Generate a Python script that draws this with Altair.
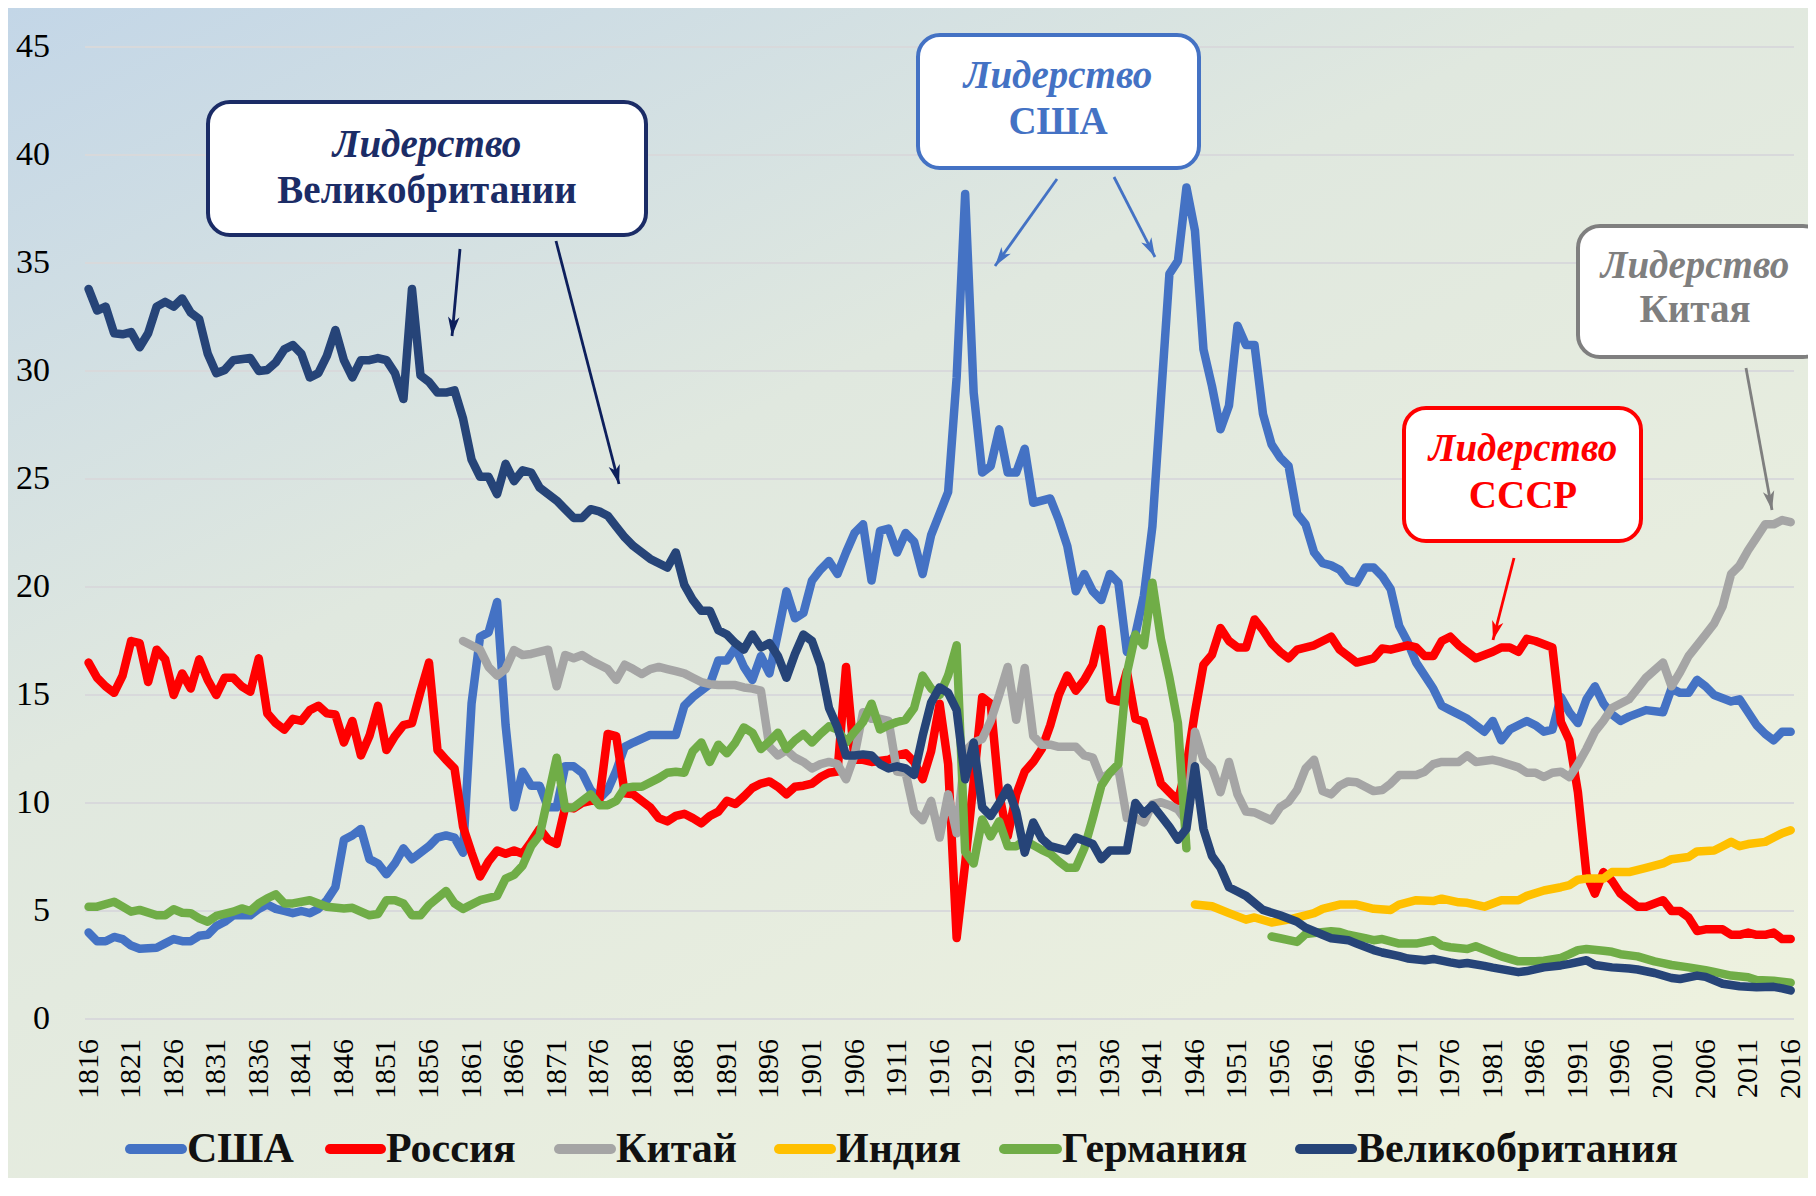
import math
import altair as alt
import pandas as pd

# ---------------- data (share of world power, %) ----------------
usa_years = [1816, 1817, 1818, 1819, 1820, 1821, 1822, 1824, 1825, 1826, 1827, 1828, 1829, 1830,
             1831, 1832, 1833, 1835, 1836, 1837, 1838, 1839, 1840, 1841, 1842, 1843, 1844, 1845,
             1846, 1847, 1848, 1849, 1850, 1851, 1852, 1853, 1854, 1855, 1856, 1857, 1858, 1859,
             1860, 1861, 1862, 1863, 1864, 1865, 1866, 1867, 1868, 1869, 1870, 1871, 1872, 1873,
             1874, 1875, 1876, 1877, 1878, 1879, 1880, 1882, 1885, 1886, 1887, 1888, 1889, 1890,
             1891, 1892, 1893, 1894, 1895, 1896, 1897, 1898, 1899, 1900, 1901, 1902, 1903, 1904,
             1905, 1906, 1907, 1908, 1909, 1910, 1911, 1912, 1913, 1914, 1915, 1916, 1917, 1918,
             1919, 1920, 1921, 1922, 1923, 1924, 1925, 1926, 1927, 1928, 1929, 1930, 1931, 1932,
             1933, 1934, 1935, 1936, 1937, 1938, 1939, 1940, 1941, 1942, 1943, 1944, 1945, 1946,
             1947, 1948, 1949, 1950, 1951, 1952, 1953, 1954, 1955, 1956, 1957, 1958, 1959, 1960,
             1961, 1962, 1963, 1964, 1965, 1966, 1967, 1968, 1969, 1970, 1971, 1972, 1974, 1975,
             1976, 1978, 1980, 1981, 1982, 1983, 1985, 1986, 1987, 1988, 1989, 1990, 1991, 1992,
             1993, 1994, 1995, 1996, 1997, 1999, 2001, 2002, 2003, 2004, 2005, 2006, 2007, 2009,
             2010, 2011, 2012, 2013, 2014, 2015, 2016]
usa_values = [4.0, 3.6, 3.6, 3.8, 3.7, 3.4, 3.25, 3.3, 3.5, 3.7, 3.6, 3.6, 3.85, 3.9,
              4.3, 4.5, 4.8, 4.8, 5.1, 5.3, 5.1, 5.0, 4.9, 5.0, 4.9, 5.1, 5.5, 6.1,
              8.3, 8.5, 8.8, 7.4, 7.2, 6.7, 7.2, 7.9, 7.4, 7.7, 8.0, 8.4, 8.5, 8.4,
              7.7, 14.6, 17.7, 17.9, 19.3, 13.6, 9.8, 11.45, 10.8, 10.8, 9.8, 9.8, 11.7, 11.7,
              11.4, 10.6, 10.2, 10.6, 11.5, 12.6, 12.8, 13.15, 13.15, 14.5, 14.9, 15.2, 15.5, 16.6,
              16.6, 17.2, 16.3, 15.7, 16.8, 16.0, 17.85, 19.8, 18.55, 18.8, 20.3, 20.8, 21.2, 20.6,
              21.6, 22.5, 22.9, 20.3, 22.6, 22.7, 21.6, 22.5, 22.1, 20.6, 22.4, 23.4, 24.4, 29.7,
              38.2, 29.0, 25.3, 25.6, 27.3, 25.3, 25.3, 26.4, 23.9, 24.0, 24.1, 23.1, 21.9, 19.8,
              20.6, 19.8, 19.4, 20.6, 20.2, 17.0, 17.8, 19.6, 22.8, 28.7, 34.5, 35.1, 38.5, 36.5,
              31.0, 29.3, 27.3, 28.4, 32.1, 31.2, 31.2, 28.0, 26.6, 26.0, 25.6, 23.4, 22.9, 21.6,
              21.1, 21.0, 20.8, 20.3, 20.2, 20.9, 20.9, 20.5, 19.9, 18.2, 17.45, 16.5, 15.3, 14.5,
              14.3, 13.9, 13.3, 13.8, 12.9, 13.4, 13.8, 13.6, 13.3, 13.4, 14.9, 14.2, 13.7, 14.8,
              15.4, 14.6, 14.1, 13.8, 14.0, 14.3, 14.2, 15.3, 15.1, 15.1, 15.7, 15.4, 15.0, 14.7,
              14.8, 14.2, 13.6, 13.2, 12.9, 13.3, 13.3]

rus_years = [1816, 1817, 1818, 1819, 1820, 1821, 1822, 1823, 1824, 1825, 1826, 1827, 1828, 1829,
             1830, 1831, 1832, 1833, 1834, 1835, 1836, 1837, 1838, 1839, 1840, 1841, 1842, 1843,
             1844, 1845, 1846, 1847, 1848, 1849, 1850, 1851, 1852, 1853, 1854, 1855, 1856, 1857,
             1858, 1859, 1860, 1861, 1862, 1863, 1864, 1865, 1866, 1867, 1868, 1869, 1870, 1871,
             1872, 1873, 1874, 1875, 1876, 1877, 1878, 1879, 1880, 1881, 1882, 1883, 1884, 1885,
             1886, 1887, 1888, 1889, 1890, 1891, 1892, 1893, 1894, 1895, 1896, 1897, 1898, 1899,
             1900, 1901, 1902, 1903, 1904, 1905, 1906, 1907, 1908, 1910, 1911, 1912, 1913, 1914,
             1915, 1916, 1917, 1918, 1919, 1920, 1921, 1922, 1923, 1924, 1925, 1926, 1927, 1928,
             1929, 1930, 1931, 1932, 1933, 1934, 1935, 1936, 1937, 1938, 1939, 1940, 1941, 1942,
             1943, 1944, 1945, 1946, 1947, 1948, 1949, 1950, 1951, 1952, 1953, 1954, 1955, 1956,
             1957, 1958, 1960, 1962, 1963, 1965, 1967, 1968, 1969, 1971, 1972, 1973, 1974, 1975,
             1976, 1977, 1979, 1981, 1982, 1983, 1984, 1985, 1986, 1988, 1989, 1990, 1991, 1992,
             1993, 1994, 1995, 1996, 1998, 1999, 2001, 2002, 2003, 2004, 2005, 2006, 2008, 2009,
             2010, 2011, 2012, 2013, 2014, 2015, 2016]
rus_values = [16.5, 15.8, 15.4, 15.1, 15.9, 17.5, 17.4, 15.6, 17.1, 16.65, 15.0, 16.0, 15.3, 16.65,
              15.7, 15.0, 15.8, 15.8, 15.4, 15.15, 16.7, 14.15, 13.7, 13.4, 13.9, 13.8, 14.3, 14.5,
              14.15, 14.1, 12.8, 13.8, 12.2, 13.1, 14.5, 12.45, 13.1, 13.6, 13.7, 15.15, 16.5, 12.45,
              12.0, 11.6, 8.9, 7.7, 6.6, 7.3, 7.8, 7.65, 7.8, 7.65, 8.2, 8.8, 8.3, 8.1,
              9.8, 9.75, 10.0, 10.1, 10.1, 13.2, 13.1, 10.45, 10.4, 10.1, 9.8, 9.3, 9.15, 9.4,
              9.5, 9.3, 9.06, 9.4, 9.6, 10.1, 9.95, 10.3, 10.7, 10.9, 11.0, 10.75, 10.4, 10.75,
              10.8, 10.9, 11.2, 11.4, 11.46, 16.3, 12.0, 12.0, 11.9, 12.0, 12.2, 12.3, 11.9, 11.1,
              12.4, 14.6, 11.8, 3.75, 7.2, 11.0, 14.9, 14.6, 10.4, 8.45, 10.4, 11.46, 11.9, 12.5,
              13.6, 15.0, 15.9, 15.2, 15.7, 16.4, 18.05, 14.8, 14.7, 16.1, 13.9, 13.76, 12.3, 10.9,
              10.5, 10.1, 11.7, 14.2, 16.4, 16.86, 18.1, 17.5, 17.2, 17.2, 18.5, 18.0, 17.4, 17.0,
              16.7, 17.1, 17.3, 17.7, 17.1, 16.5, 16.7, 17.15, 17.1, 17.3, 17.2, 16.8, 16.8, 17.5,
              17.7, 17.3, 16.7, 17.0, 17.2, 17.2, 17.0, 17.6, 17.5, 17.2, 13.75, 12.9, 10.5, 6.7,
              5.8, 6.8, 6.4, 5.8, 5.2, 5.2, 5.5, 5.0, 5.0, 4.7, 4.07, 4.15, 4.15, 3.9,
              3.9, 4.0, 3.9, 3.9, 4.0, 3.7, 3.7]

chn_years = [1860, 1862, 1863, 1864, 1865, 1866, 1867, 1868, 1870, 1871, 1872, 1873, 1874, 1875,
             1876, 1877, 1878, 1879, 1880, 1881, 1882, 1883, 1884, 1885, 1886, 1887, 1888, 1889,
             1890, 1892, 1893, 1894, 1895, 1896, 1897, 1898, 1899, 1900, 1901, 1902, 1903, 1904,
             1905, 1906, 1907, 1908, 1909, 1910, 1911, 1912, 1913, 1914, 1915, 1916, 1917, 1918,
             1919, 1920, 1921, 1922, 1923, 1924, 1925, 1926, 1927, 1928, 1929, 1930, 1932, 1933,
             1934, 1935, 1936, 1937, 1938, 1939, 1940, 1941, 1942, 1943, 1944, 1945, 1946, 1947,
             1948, 1949, 1950, 1951, 1952, 1953, 1955, 1956, 1957, 1958, 1959, 1960, 1961, 1962,
             1963, 1964, 1965, 1967, 1968, 1969, 1970, 1972, 1973, 1974, 1975, 1977, 1978, 1979,
             1981, 1982, 1984, 1985, 1986, 1987, 1988, 1989, 1990, 1991, 1992, 1993, 1994, 1995,
             1997, 1998, 1999, 2001, 2002, 2003, 2004, 2005, 2006, 2007, 2008, 2009, 2010, 2011,
             2012, 2013, 2014, 2015, 2016]
chn_values = [17.5, 17.1, 16.3, 15.9, 16.2, 17.08, 16.85, 16.9, 17.1, 15.4, 16.85, 16.7, 16.85, 16.6,
              16.4, 16.2, 15.7, 16.4, 16.2, 15.97, 16.2, 16.3, 16.2, 16.1, 16.0, 15.8, 15.6, 15.5,
              15.46, 15.46, 15.35, 15.3, 15.2, 12.6, 12.2, 12.45, 12.1, 11.9, 11.6, 11.8, 11.9, 11.8,
              11.1, 12.2, 14.2, 13.9, 13.9, 13.8, 11.46, 11.4, 9.6, 9.2, 10.1, 8.4, 10.4, 8.6,
              12.4, 12.8, 12.96, 13.8, 15.0, 16.3, 13.85, 16.25, 13.1, 12.7, 12.7, 12.6, 12.6, 12.2,
              12.1, 11.1, 11.4, 11.6, 9.3, 9.3, 9.1, 9.95, 10.04, 9.9, 9.7, 9.15, 13.3, 12.0,
              11.6, 10.5, 11.9, 10.4, 9.6, 9.56, 9.2, 9.8, 10.06, 10.6, 11.6, 12.0, 10.55, 10.4,
              10.8, 11.0, 10.96, 10.55, 10.6, 10.9, 11.3, 11.3, 11.45, 11.8, 11.9, 11.9, 12.2, 11.9,
              12.0, 11.9, 11.65, 11.4, 11.4, 11.2, 11.4, 11.45, 11.2, 11.8, 12.5, 13.3, 13.8, 14.4,
              14.8, 15.3, 15.8, 16.5, 15.4, 16.05, 16.8, 17.3, 17.8, 18.3, 19.1, 20.6, 21.0, 21.7,
              22.3, 22.9, 22.9, 23.1, 23.0]

ind_years = [1946, 1948, 1950, 1952, 1953, 1955, 1957, 1959, 1960, 1961, 1963, 1965, 1967, 1969,
             1970, 1972, 1974, 1975, 1977, 1978, 1980, 1982, 1984, 1985, 1987, 1989, 1990, 1991,
             1992, 1994, 1995, 1997, 1999, 2001, 2002, 2004, 2005, 2007, 2008, 2009, 2010, 2011,
             2013, 2014, 2015, 2016]
ind_values = [5.3, 5.22, 4.9, 4.6, 4.7, 4.47, 4.6, 4.8, 4.9, 5.1, 5.3, 5.3, 5.1, 5.05,
              5.3, 5.5, 5.46, 5.57, 5.4, 5.38, 5.2, 5.5, 5.5, 5.7, 5.95, 6.1, 6.2, 6.45,
              6.5, 6.5, 6.8, 6.8, 7.0, 7.2, 7.4, 7.5, 7.76, 7.8, 8.0, 8.2, 8.0, 8.1,
              8.2, 8.4, 8.6, 8.74]

# Germany: two separate stretches (no data 1946-1954)
ger_years_a = [1816, 1817, 1819, 1820, 1821, 1822, 1824, 1825, 1826, 1827, 1828, 1829, 1830, 1831,
               1833, 1834, 1835, 1836, 1837, 1838, 1839, 1840, 1842, 1843, 1844, 1846, 1847, 1848,
               1849, 1850, 1851, 1852, 1853, 1854, 1855, 1856, 1858, 1859, 1860, 1862, 1864, 1865,
               1866, 1867, 1868, 1869, 1870, 1871, 1872, 1873, 1874, 1875, 1876, 1877, 1878, 1879,
               1880, 1881, 1883, 1884, 1885, 1886, 1887, 1888, 1889, 1890, 1891, 1892, 1893, 1894,
               1895, 1896, 1897, 1898, 1899, 1900, 1901, 1902, 1903, 1904, 1905, 1906, 1907, 1908,
               1909, 1910, 1911, 1912, 1913, 1914, 1915, 1916, 1917, 1918, 1919, 1920, 1921, 1922,
               1923, 1924, 1925, 1926, 1928, 1929, 1930, 1931, 1932, 1933, 1934, 1935, 1936, 1937,
               1938, 1939, 1940, 1941, 1942, 1943, 1944, 1945]
ger_values_a = [5.2, 5.2, 5.43, 5.2, 4.97, 5.05, 4.8, 4.8, 5.08, 4.92, 4.9, 4.66, 4.5, 4.77,
                4.97, 5.12, 5.0, 5.35, 5.59, 5.77, 5.35, 5.35, 5.5, 5.35, 5.2, 5.12, 5.15, 4.97,
                4.8, 4.86, 5.5, 5.5, 5.35, 4.8, 4.8, 5.28, 5.93, 5.35, 5.1, 5.5, 5.7, 6.5,
                6.67, 7.1, 8.0, 8.5, 10.3, 12.1, 9.75, 9.8, 10.1, 10.4, 9.9, 9.9, 10.1, 10.7,
                10.75, 10.75, 11.15, 11.4, 11.45, 11.4, 12.4, 12.8, 11.9, 12.7, 12.3, 12.8, 13.5, 13.25,
                12.5, 12.85, 13.25, 12.5, 12.9, 13.2, 12.8, 13.2, 13.55, 13.4, 12.8, 13.3, 13.75, 14.6,
                13.4, 13.6, 13.75, 13.85, 14.4, 15.9, 15.3, 15.0, 15.9, 17.3, 7.74, 7.2, 9.24, 8.45,
                9.15, 8.0, 8.0, 8.27, 7.83, 7.65, 7.3, 7.0, 7.0, 7.9, 9.3, 10.8, 11.4, 11.8,
                16.0, 17.8, 17.3, 20.2, 17.6, 15.8, 13.7, 7.9]
ger_years_b = [1955, 1956, 1958, 1959, 1960, 1962, 1963, 1964, 1966, 1967, 1968, 1970, 1972, 1974,
               1975, 1976, 1978, 1979, 1980, 1982, 1984, 1986, 1987, 1989, 1990, 1991, 1992, 1994,
               1995, 1996, 1998, 2000, 2001, 2002, 2004, 2006, 2007, 2009, 2011, 2012, 2014, 2016]
ger_values_b = [3.82, 3.74, 3.57, 3.93, 3.98, 4.06, 4.03, 3.9, 3.74, 3.65, 3.7, 3.49, 3.49, 3.65,
                3.4, 3.32, 3.24, 3.37, 3.21, 2.9, 2.67, 2.67, 2.7, 2.83, 3.0, 3.19, 3.24, 3.16,
                3.11, 3.0, 2.9, 2.67, 2.59, 2.5, 2.39, 2.26, 2.18, 2.01, 1.93, 1.8, 1.77, 1.68]

gbr_years = [1816, 1817, 1818, 1819, 1820, 1821, 1822, 1823, 1824, 1825, 1826, 1827, 1828, 1829,
             1830, 1831, 1832, 1833, 1835, 1836, 1837, 1838, 1839, 1840, 1841, 1842, 1843, 1844,
             1845, 1846, 1847, 1848, 1849, 1850, 1851, 1852, 1853, 1854, 1855, 1856, 1857, 1858,
             1859, 1860, 1861, 1862, 1863, 1864, 1865, 1866, 1867, 1868, 1869, 1870, 1871, 1872,
             1873, 1874, 1875, 1876, 1877, 1878, 1879, 1880, 1881, 1882, 1883, 1884, 1885, 1886,
             1887, 1888, 1889, 1890, 1891, 1892, 1893, 1894, 1895, 1896, 1897, 1898, 1899, 1900,
             1901, 1902, 1903, 1904, 1905, 1906, 1907, 1908, 1909, 1910, 1911, 1912, 1913, 1914,
             1915, 1916, 1917, 1918, 1919, 1920, 1921, 1922, 1923, 1924, 1925, 1926, 1927, 1928,
             1929, 1931, 1932, 1934, 1935, 1936, 1938, 1939, 1940, 1941, 1942, 1943, 1944, 1945,
             1946, 1947, 1948, 1949, 1950, 1951, 1952, 1954, 1956, 1958, 1959, 1961, 1962, 1964,
             1965, 1967, 1968, 1970, 1971, 1973, 1974, 1976, 1977, 1978, 1980, 1981, 1984, 1985,
             1987, 1989, 1990, 1992, 1993, 1995, 1997, 1998, 2000, 2002, 2003, 2005, 2006, 2008,
             2010, 2012, 2014, 2015, 2016]
gbr_values = [33.8, 32.8, 32.98, 31.75, 31.7, 31.8, 31.1, 31.75, 32.98, 33.2, 32.98, 33.36, 32.7, 32.4,
              30.8, 29.9, 30.05, 30.5, 30.6, 30.0, 30.05, 30.4, 31.0, 31.2, 30.8, 29.7, 29.9, 30.7,
              31.9, 30.5, 29.7, 30.5, 30.5, 30.6, 30.5, 29.9, 28.7, 33.8, 29.8, 29.5, 29.0, 29.0,
              29.1, 27.8, 25.9, 25.1, 25.1, 24.3, 25.7, 24.9, 25.4, 25.3, 24.6, 24.3, 24.0, 23.6,
              23.2, 23.2, 23.6, 23.5, 23.3, 22.8, 22.3, 21.9, 21.6, 21.3, 21.1, 20.9, 21.6, 20.1,
              19.4, 18.9, 18.9, 18.0, 17.8, 17.4, 17.1, 17.8, 17.2, 17.4, 16.8, 15.8, 16.9, 17.8,
              17.5, 16.4, 14.4, 13.5, 12.2, 12.2, 12.25, 12.2, 11.8, 11.6, 11.7, 11.6, 11.3, 13.1,
              14.65, 15.35, 15.1, 14.3, 11.1, 12.8, 9.8, 9.4, 10.0, 10.7, 9.6, 7.7, 9.1, 8.35,
              8.0, 7.8, 8.4, 8.1, 7.4, 7.8, 7.8, 10.0, 9.5, 9.9, 9.4, 8.9, 8.3, 8.8,
              11.7, 8.8, 7.55, 7.0, 6.1, 5.9, 5.7, 5.05, 4.8, 4.5, 4.23, 3.9, 3.74, 3.65,
              3.49, 3.19, 3.08, 2.91, 2.8, 2.72, 2.78, 2.62, 2.55, 2.59, 2.46, 2.38, 2.17, 2.22,
              2.39, 2.48, 2.55, 2.72, 2.5, 2.39, 2.34, 2.29, 2.13, 1.9, 1.85, 2.01, 1.95, 1.63,
              1.52, 1.47, 1.49, 1.42, 1.32]

COUNTRIES = ["США", "Россия", "Китай", "Индия", "Германия", "Великобритания"]
COLORS = ["#4472C4", "#FF0000", "#A5A5A5", "#FFC000", "#70AD47", "#264478"]
TICK_YEARS = list(range(1816, 2017, 5))
GRID_VALUES = list(range(0, 46, 5))

# ---------------- layout ----------------
W, H = 1709, 972
PAD = {"left": 77, "top": 39, "right": 14, "bottom": 159}
FONT = "Liberation Serif"
LINE_W = 8.5

x_scale = alt.Scale(domain=[1815.58, 2016.39], nice=False, zero=False)
y_scale = alt.Scale(domain=[0, 45], nice=False)

one = pd.DataFrame({"a": [0]})

background = alt.Chart(one).mark_rect(
    fill=alt.LinearGradient(
        gradient="linear",
        stops=[alt.GradientStop(offset=0, color="#c3d6e7"),
               alt.GradientStop(offset=0.42, color="#e0e8df"),
               alt.GradientStop(offset=1, color="#edf1df")],
        x1=0, y1=0, x2=0.75, y2=1),
).encode(x=alt.value(-PAD["left"]), x2=alt.value(W + PAD["right"]),
         y=alt.value(-PAD["top"]), y2=alt.value(H + PAD["bottom"]))

grid = alt.Chart(pd.DataFrame({"g": GRID_VALUES})).mark_rule(
    color="#d8d9db", strokeWidth=1.8
).encode(y=alt.Y("g:Q", scale=y_scale, axis=None), x=alt.value(0), x2=alt.value(W))

# tick labels drawn as text
y_labels = alt.Chart(pd.DataFrame({"g": GRID_VALUES})).mark_text(
    font=FONT, fontSize=34, color="#000000", align="right", baseline="middle"
).encode(y=alt.Y("g:Q", scale=y_scale, axis=None), x=alt.value(-35), text="g:Q")

x_labels = alt.Chart(pd.DataFrame({"yr": TICK_YEARS})).mark_text(
    font=FONT, fontSize=30, color="#000000", align="right", baseline="middle", angle=270
).encode(x=alt.X("yr:Q", scale=x_scale, axis=None), y=alt.value(H + 20), text="yr:Q")


def line_layer(years, values, color):
    df = pd.DataFrame({"year": years, "value": values})
    return alt.Chart(df).mark_line(
        color=color, strokeWidth=LINE_W, strokeCap="round", strokeJoin="round"
    ).encode(
        x=alt.X("year:Q", scale=x_scale, axis=None),
        y=alt.Y("value:Q", scale=y_scale, axis=None),
    )


lines = [
    line_layer(usa_years, usa_values, COLORS[0]),
    line_layer(rus_years, rus_values, COLORS[1]),
    line_layer(chn_years, chn_values, COLORS[2]),
    line_layer(ind_years, ind_values, COLORS[3]),
    line_layer(ger_years_a, ger_values_a, COLORS[4]),
    line_layer(ger_years_b, ger_values_b, COLORS[4]),
    line_layer(gbr_years, gbr_values, COLORS[5]),
]

# ---------------- annotations (pixel positions inside the plot area) ----------------
NAVY_T = "#1b2c66"
ANN_COLORS = [NAVY_T, "#4472C4", "#FF0000", "#7F7F7F"]
boxes = pd.DataFrame({
    "x": [123, 833, 1319, 1493],
    "x2": [561, 1114, 1556, 1740],
    "y": [55, -12, 361, 179],
    "y2": [188, 121, 494, 310],
    "c": ANN_COLORS,
})
box_layer = alt.Chart(boxes).mark_rect(
    fill="white", strokeWidth=4, cornerRadius=22
).encode(
    x=alt.X("x:Q", scale=None, axis=None), x2="x2:Q",
    y=alt.Y("y:Q", scale=None, axis=None), y2="y2:Q",
    stroke=alt.Stroke("c:N", scale=None),
)

labels1 = pd.DataFrame({
    "x": [342, 973, 1438, 1610],
    "y": [98, 29, 402, 219],
    "t": ["Лидерство"] * 4,
    "c": ANN_COLORS,
})
labels2 = pd.DataFrame({
    "x": [342, 973, 1438, 1610],
    "y": [144, 75, 449, 263],
    "t": ["Великобритании", "США", "СССР", "Китая"],
    "c": ANN_COLORS,
})
text1 = alt.Chart(labels1).mark_text(
    font=FONT, fontSize=39, fontStyle="italic", fontWeight="bold",
    align="center", baseline="middle"
).encode(x=alt.X("x:Q", scale=None, axis=None), y=alt.Y("y:Q", scale=None, axis=None),
         text="t:N", color=alt.Color("c:N", scale=None))
text2 = alt.Chart(labels2).mark_text(
    font=FONT, fontSize=39, fontWeight="bold", align="center", baseline="middle"
).encode(x=alt.X("x:Q", scale=None, axis=None), y=alt.Y("y:Q", scale=None, axis=None),
         text="t:N", color=alt.Color("c:N", scale=None))

arrow_rows = [
    (375, 202, 367, 289, "#0d1f5c"),
    (471, 194, 534, 437, "#0d1f5c"),
    (972, 132, 910, 219, "#4472C4"),
    (1029, 130, 1070, 210, "#4472C4"),
    (1661, 321, 1687, 463, "#7F7F7F"),
    (1429, 511, 1408, 593, "#FF0000"),
]
arrows = pd.DataFrame(arrow_rows, columns=["x1", "y1", "x2", "y2", "c"])
arrows["ang"] = [math.degrees(math.atan2(-(r[2] - r[0]), r[3] - r[1])) % 360 for r in arrow_rows]

arrow_lines = alt.Chart(arrows).mark_rule(strokeWidth=2.8).encode(
    x=alt.X("x1:Q", scale=None, axis=None), y=alt.Y("y1:Q", scale=None, axis=None),
    x2="x2:Q", y2="y2:Q", color=alt.Color("c:N", scale=None))
arrow_heads = alt.Chart(arrows).mark_point(
    shape="M0,0 L-0.45,-1.5 L0,-1.1 L0.45,-1.5 Z", filled=True, opacity=1, size=650
).encode(
    x=alt.X("x2:Q", scale=None, axis=None), y=alt.Y("y2:Q", scale=None, axis=None),
    angle=alt.Angle("ang:Q", scale=None), color=alt.Color("c:N", scale=None))

# ---------------- legend ----------------
legend_df = pd.DataFrame({
    "name": COUNTRIES,
    "c": COLORS,
    "sx": [45, 245, 474, 694, 919, 1215],
    "sx2": [97, 296, 526, 746, 972, 1267],
})
legend_df["tx"] = legend_df["sx2"] + 5
LEG_Y = 1102
leg_sw = alt.Chart(legend_df).mark_rule(strokeWidth=10, strokeCap="round").encode(
    x=alt.X("sx:Q", scale=None, axis=None), x2="sx2:Q", y=alt.value(LEG_Y),
    color=alt.Color("c:N", scale=None))
leg_tx = alt.Chart(legend_df).mark_text(
    font=FONT, fontSize=42, fontWeight="bold", align="left", baseline="middle", color="#111111"
).encode(x=alt.X("tx:Q", scale=None, axis=None), y=alt.value(LEG_Y), text="name:N")

chart = alt.layer(
    background, grid, y_labels, x_labels, *lines, arrow_lines, arrow_heads,
    box_layer, text1, text2, leg_sw, leg_tx
).properties(
    width=W, height=H, padding=PAD, autosize=alt.AutoSizeParams(type="none"),
    background="#ffffff"
).configure_view(stroke=None)

chart.save("out.html", embed_options={"renderer": "svg", "actions": False})
